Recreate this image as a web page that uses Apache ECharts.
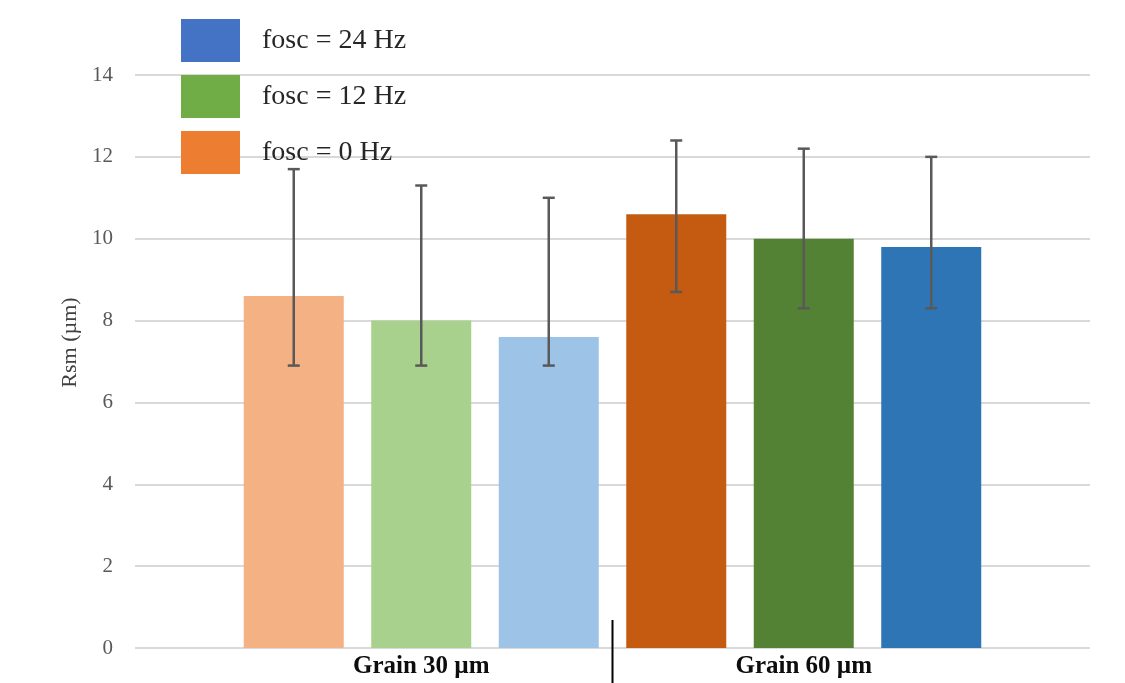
<!DOCTYPE html>
<html>
<head>
<meta charset="utf-8">
<script src="https://cdn.jsdelivr.net/npm/echarts@6/dist/echarts.min.js"></script>
<style>html,body{margin:0;padding:0;background:#fff}#c{width:1125px;height:683px}</style>
</head>
<body>
<div id="c"></div>
<script>
const categories = ['Grain 30 µm', 'Grain 60 µm'];
const seriesNames = ['fosc = 0 Hz', 'fosc = 12 Hz', 'fosc = 24 Hz'];
const legendOrder = ['fosc = 24 Hz', 'fosc = 12 Hz', 'fosc = 0 Hz'];
const values0 = [8.6, 10.6];
const values12 = [8.0, 10.0];
const values24 = [7.6, 9.8];
const errLow0 = [6.9, 8.7];
const errHigh0 = [11.7, 12.4];
const errLow12 = [6.9, 8.3];
const errHigh12 = [11.3, 12.2];
const errLow24 = [6.9, 8.3];
const errHigh24 = [11.0, 12.0];
const yTicks = [0, 2, 4, 6, 8, 10, 12, 14];

const legendColors = ['#ED7D31', '#70AD47', '#4472C4'];
const barColors = [['#F4B183', '#C55A11'], ['#A9D18E', '#548235'], ['#9DC3E6', '#2E75B6']];
const values = [values0, values12, values24];
const lows = [errLow0, errLow12, errLow24];
const highs = [errHigh0, errHigh12, errHigh24];

const BAR_W = 100, BAR_GAP = 0.275;
const serif = '"Liberation Serif", "DejaVu Serif", serif';

const chart = echarts.init(document.getElementById('c'));

const series = [];
for (let s = 0; s < 3; s++) {
  series.push({
    name: seriesNames[s], type: 'bar', xAxisIndex: 1, yAxisIndex: 1,
    barWidth: BAR_W, barGap: (BAR_GAP * 100) + '%',
    itemStyle: { color: legendColors[s] },
    data: values[s].map((v, i) => ({ value: v, itemStyle: { color: barColors[s][i] } })),
    z: 2
  });
}
for (let s = 0; s < 3; s++) {
  series.push({
    type: 'custom', xAxisIndex: 1, yAxisIndex: 1, z: 5,
    data: categories.map((c, i) => [i, lows[s][i], highs[s][i]]),
    renderItem: function (params, api) {
      const ci = api.value(0);
      const lo = api.coord([ci, api.value(1)]);
      const hi = api.coord([ci, api.value(2)]);
      const off = (s - 1) * BAR_W * (1 + BAR_GAP);
      const x = lo[0] + off;
      const cap = 6;
      const st = { stroke: '#595959', lineWidth: 2.5 };
      return { type: 'group', children: [
        { type: 'line', shape: { x1: x, y1: hi[1], x2: x, y2: lo[1] }, style: st },
        { type: 'line', shape: { x1: x - cap, y1: hi[1], x2: x + cap, y2: hi[1] }, style: st },
        { type: 'line', shape: { x1: x - cap, y1: lo[1], x2: x + cap, y2: lo[1] }, style: st }
      ]};
    }
  });
}

chart.setOption({
  animation: false,
  backgroundColor: '#fff',
  legend: {
    data: legendOrder, orient: 'vertical', left: 181, top: 19, padding: 0,
    itemWidth: 59, itemHeight: 43, itemGap: 13, icon: 'rect',
    textStyle: { fontFamily: serif, fontSize: 28, color: '#262626', padding: [0, 0, 0, 17] }
  },
  grid: [
    { left: 135, right: 35, top: 75, bottom: 35 },
    { left: 230, right: 130, top: 75, bottom: 35 }
  ],
  xAxis: [
    { type: 'value', gridIndex: 0, min: 0, max: 1, show: false },
    { type: 'category', gridIndex: 1, data: categories,
      axisLine: { show: false }, axisTick: { show: false },
      axisLabel: { margin: 6, fontFamily: serif, fontSize: 25, fontWeight: 'bold', color: '#0d0d0d' } }
  ],
  yAxis: [
    { type: 'value', gridIndex: 0, min: 0, max: 14, interval: 2,
      name: 'Rsm (µm)', nameLocation: 'middle', nameGap: 53, nameRotate: 90,
      nameTextStyle: { fontFamily: serif, fontSize: 22, color: '#404040', padding: [0, 0, 0, 38] },
      axisLine: { show: false }, axisTick: { show: false },
      axisLabel: { margin: 22, fontFamily: serif, fontSize: 21, color: '#595959' },
      splitLine: { lineStyle: { color: '#d9d9d9', width: 2 } } },
    { type: 'value', gridIndex: 1, min: 0, max: 14, interval: 2, show: false, splitLine: { show: false } }
  ],
  series: series
});

const p0 = chart.convertToPixel({ xAxisIndex: 1, yAxisIndex: 1 }, [0, 0]);
const p1 = chart.convertToPixel({ xAxisIndex: 1, yAxisIndex: 1 }, [1, 0]);
const sx = (p0[0] + p1[0]) / 2;
chart.setOption({
  graphic: [{ type: 'line', shape: { x1: sx, y1: p0[1] - 28, x2: sx, y2: p0[1] + 35 }, style: { stroke: '#000', lineWidth: 2 } }]
});
</script>
</body>
</html>
